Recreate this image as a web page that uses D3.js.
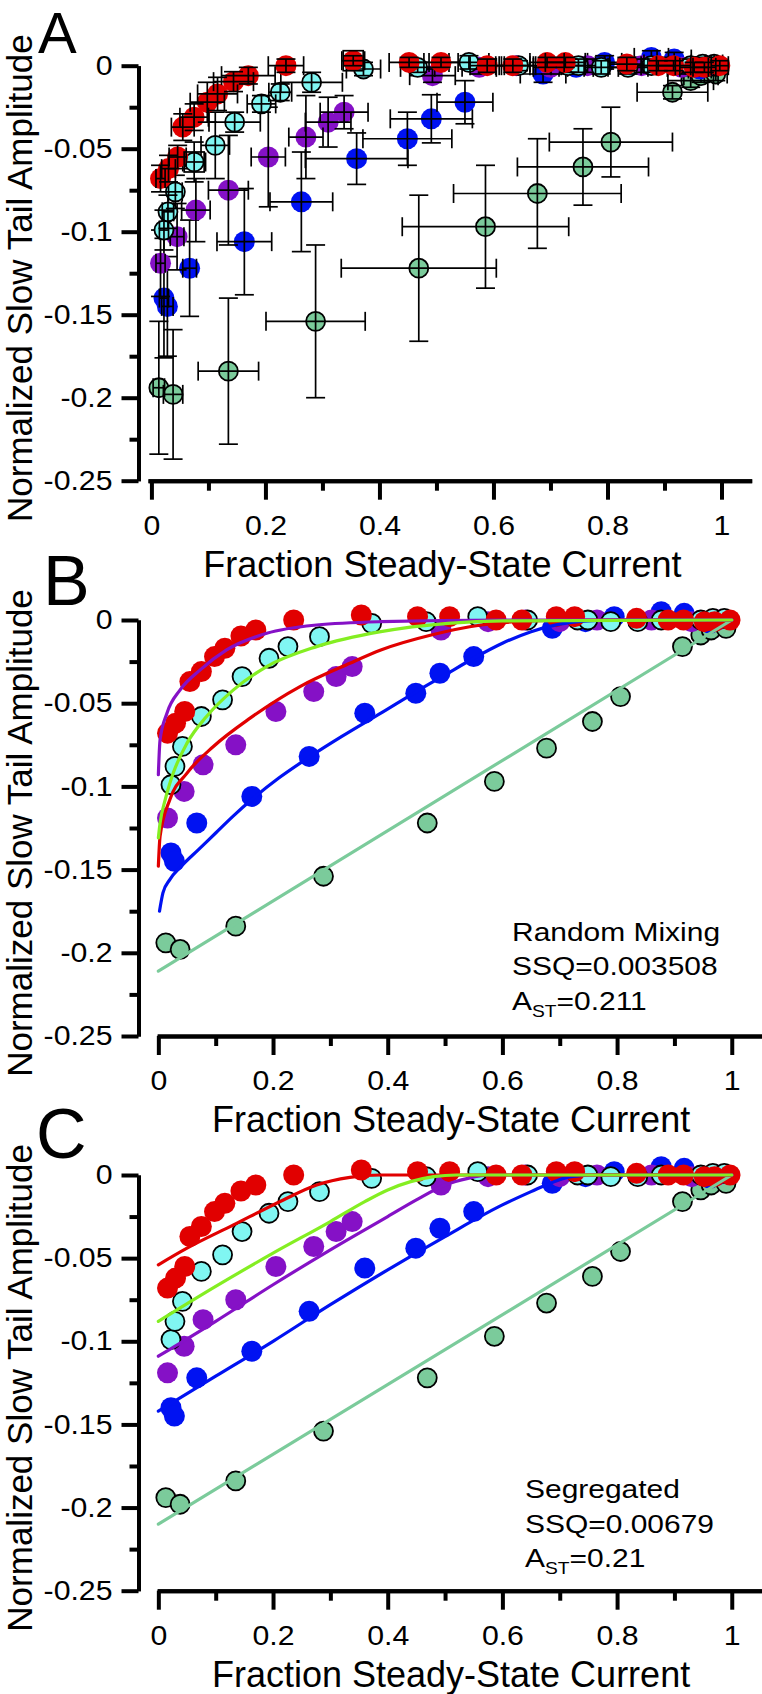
<!DOCTYPE html>
<html>
<head>
<meta charset="utf-8">
<script src="https://cdn.jsdelivr.net/npm/d3@7"></script>
<style>
  body { margin: 0; background: #fff; }
  svg { display: block; font-family: "Liberation Sans", Arial, sans-serif; }
</style>
</head>
<body>
<div id="chart"></div>
<script>
// ---- tick values ----
const xMajor = [0, 0.2, 0.4, 0.6, 0.8, 1];
const xMinor = [0.1, 0.3, 0.5, 0.7, 0.9];
const yMajor = [0, -0.05, -0.1, -0.15, -0.2, -0.25];
const yMinor = [-0.025, -0.075, -0.125, -0.175, -0.225];

// ---- data points (same in all three panels) ----
const redX = [0.016, 0.030, 0.046, 0.055, 0.075, 0.098, 0.116, 0.144, 0.170, 0.236, 0.354, 0.452, 0.508, 0.589, 0.634, 0.694, 0.726, 0.834, 0.889, 0.916, 0.952, 0.970, 0.997];
const redY = [-0.068, -0.062, -0.055, -0.037, -0.031, -0.022, -0.017, -0.0096, -0.006, 0.000, 0.003, 0.002, 0.002, 0.000, 0.000, 0.002, 0.002, 0.001, 0.000, 0.000, -0.001, -0.001, 0.000];
const redXErr = [0.008, 0.012, 0.015, 0.02, 0.025, 0.03, 0.035, 0.035, 0.047, 0.031, 0.02, 0.035, 0.03, 0.03, 0.03, 0.03, 0.035, 0.03, 0.03, 0.03, 0.025, 0.02, 0.015];
const redYErr = [0.008, 0.008, 0.007, 0.008, 0.008, 0.012, 0.01, 0.006, 0.005, 0.004, 0.003, 0.003, 0.003, 0.004, 0.004, 0.003, 0.003, 0.004, 0.003, 0.003, 0.003, 0.003, 0.003];

const cyanX = [0.022, 0.029, 0.042, 0.075, 0.112, 0.146, 0.193, 0.226, 0.281, 0.372, 0.467, 0.557, 0.644, 0.731, 0.749, 0.789, 0.836, 0.877, 0.946, 0.967, 0.987];
const cyanY = [-0.099, -0.088, -0.076, -0.058, -0.048, -0.034, -0.023, -0.016, -0.010, -0.002, -0.001, 0.002, 0.000, 0.000, 0.000, -0.001, -0.001, 0.000, 0.000, 0.001, 0.001];
const cyanXErr = [0.008, 0.01, 0.012, 0.02, 0.025, 0.045, 0.025, 0.02, 0.054, 0.03, 0.03, 0.035, 0.03, 0.03, 0.03, 0.03, 0.035, 0.03, 0.025, 0.02, 0.015];
const cyanYErr = [0.012, 0.01, 0.01, 0.012, 0.02, 0.006, 0.005, 0.005, 0.006, 0.004, 0.003, 0.004, 0.003, 0.004, 0.004, 0.004, 0.004, 0.004, 0.004, 0.004, 0.004];

const purpleX = [0.016, 0.045, 0.078, 0.135, 0.205, 0.271, 0.310, 0.338, 0.493, 0.575, 0.640, 0.700, 0.765, 0.860, 0.930, 0.975];
const purpleY = [-0.119, -0.103, -0.087, -0.075, -0.055, -0.043, -0.034, -0.028, -0.006, -0.001, 0.000, -0.001, 0.000, 0.000, -0.001, 0.000];
const purpleXErr = [0.008, 0.012, 0.025, 0.035, 0.03, 0.03, 0.04, 0.042, 0.04, 0.03, 0.03, 0.03, 0.03, 0.03, 0.025, 0.02];
const purpleYErr = [0.02, 0.02, 0.019, 0.033, 0.03, 0.025, 0.015, 0.01, 0.004, 0.004, 0.004, 0.004, 0.004, 0.004, 0.004, 0.004];

const blueX = [0.022, 0.028, 0.067, 0.163, 0.263, 0.360, 0.449, 0.491, 0.550, 0.687, 0.745, 0.795, 0.877, 0.917, 0.962];
const blueY = [-0.140, -0.145, -0.122, -0.106, -0.082, -0.056, -0.044, -0.032, -0.022, -0.005, -0.001, 0.002, 0.005, 0.004, -0.002];
const blueXErr = [0.008, 0.01, 0.012, 0.048, 0.055, 0.09, 0.078, 0.072, 0.049, 0.04, 0.03, 0.03, 0.03, 0.03, 0.02];
const blueYErr = [0.036, 0.03, 0.029, 0.032, 0.03, 0.0155, 0.016, 0.0145, 0.013, 0.005, 0.004, 0.004, 0.004, 0.004, 0.004];

const greenX = [0.013, 0.038, 0.135, 0.288, 0.469, 0.586, 0.677, 0.757, 0.806, 0.914, 0.946, 0.964, 0.990];
const greenY = [-0.194, -0.198, -0.184, -0.154, -0.122, -0.097, -0.077, -0.061, -0.046, -0.016, -0.009, -0.006, -0.005];
const greenXErr = [0.01, 0.017, 0.053, 0.087, 0.136, 0.146, 0.147, 0.115, 0.108, 0.062, 0.04, 0.03, 0.02];
const greenYErr = [0.04, 0.039, 0.044, 0.046, 0.044, 0.037, 0.033, 0.023, 0.021, 0.004, 0.004, 0.004, 0.004];

// points in panel A that carry a square outline
const boxedA = [[0.354, 0.003], [0.075, -0.058]];

const fitBGreen = [[0, -0.211], [1, 0]];
const fitBBlue = [[0.002, -0.175], [0.008, -0.164], [0.02, -0.156], [0.04, -0.148], [0.07, -0.138], [0.1, -0.128], [0.13, -0.118], [0.166, -0.107], [0.21, -0.095], [0.265, -0.082], [0.32, -0.070], [0.388, -0.056], [0.45, -0.043], [0.5, -0.033], [0.55, -0.023], [0.6, -0.014], [0.65, -0.007], [0.7, -0.0025], [0.75, -0.0005], [0.8, 0], [1, 0]];
const fitBRed = [[0, -0.148], [0.003, -0.130], [0.020, -0.108], [0.050, -0.092], [0.096, -0.076], [0.160, -0.059], [0.247, -0.040], [0.334, -0.026], [0.388, -0.018], [0.476, -0.009], [0.563, -0.003], [0.65, -0.0006], [0.75, 0], [1, 0]];
const fitBPurple = [[0, -0.093], [0.003, -0.072], [0.015, -0.056], [0.038, -0.042], [0.073, -0.030], [0.119, -0.018], [0.189, -0.008], [0.276, -0.003], [0.388, -0.001], [0.6, 0], [1, 0]];
const fitBLime = [[0, -0.131], [0.003, -0.122], [0.012, -0.108], [0.026, -0.092], [0.050, -0.074], [0.084, -0.058], [0.131, -0.042], [0.189, -0.028], [0.276, -0.016], [0.388, -0.007], [0.505, -0.002], [0.6, -0.0005], [1, 0]];

const fitCGreen = [[0, -0.210], [1, 0]];
const fitCBlue = [[0, -0.142], [0.1, -0.121], [0.2, -0.100], [0.3, -0.078], [0.4, -0.057], [0.5, -0.037], [0.6, -0.018], [0.65, -0.010], [0.69, -0.004], [0.72, -0.001], [0.76, 0], [1, 0]];
const fitCPurple = [[0, -0.109], [0.1, -0.088], [0.2, -0.066], [0.3, -0.045], [0.4, -0.025], [0.45, -0.015], [0.5, -0.006], [0.54, -0.002], [0.58, 0], [1, 0]];
const fitCRed = [[0, -0.054], [0.050, -0.044], [0.131, -0.030], [0.218, -0.015], [0.276, -0.006], [0.334, -0.0014], [0.388, 0], [1, 0]];
const fitCLime = [[0, -0.088], [0.1, -0.067], [0.2, -0.047], [0.3, -0.028], [0.36, -0.016], [0.4, -0.009], [0.44, -0.004], [0.48, -0.001], [0.52, 0], [1, 0]];

const annotB = ["Random Mixing", "SSQ=0.003508", "0.211"];
const annotC = ["Segregated", "SSQ=0.00679", "0.21"];

// ---- colours ----
const cRed = "#e10000", cCyan = "#80f6f2", cPurple = "#8511c6", cBlue = "#0012f2", cGreen = "#7bcb9b", cLime = "#84ee22";

const series = [
  { x: greenX, y: greenY, xe: greenXErr, ye: greenYErr, fill: cGreen, outline: true },
  { x: blueX, y: blueY, xe: blueXErr, ye: blueYErr, fill: cBlue, outline: false },
  { x: purpleX, y: purpleY, xe: purpleXErr, ye: purpleYErr, fill: cPurple, outline: false },
  { x: cyanX, y: cyanY, xe: cyanXErr, ye: cyanYErr, fill: cCyan, outline: true },
  { x: redX, y: redY, xe: redXErr, ye: redYErr, fill: cRed, outline: false }
];

const W = 762, H = 1694;
const svg = d3.select("#chart").append("svg").attr("width", W).attr("height", H);
svg.append("rect").attr("width", W).attr("height", H).attr("fill", "#fff");

const fmt = d => d === 0 ? "0" : String(+d.toFixed(3));

// the original lettering is a little wider than Arial at the same height
function widen(sel, k) {
  sel.each(function () {
    const len = this.getComputedTextLength();
    d3.select(this).attr("textLength", len * k).attr("lengthAdjust", "spacingAndGlyphs");
  });
}

function drawPanel(p) {
  const g = svg.append("g");
  const x = d3.scaleLinear().domain(p.xDom).range(p.xRange);
  const y = d3.scaleLinear().domain([-0.25, 0]).range([p.bottom, p.top]);

  // y axis
  const yAx = g.append("g").attr("transform", `translate(${p.yAxisX},0)`);
  yAx.append("g").call(d3.axisLeft(y).tickValues(yMinor).tickSize(9).tickSizeOuter(0).tickFormat(""));
  yAx.append("g").call(d3.axisLeft(y).tickValues(yMajor).tickSize(17).tickPadding(9).tickSizeOuter(0).tickFormat(fmt));

  // x axis
  const xAx = g.append("g").attr("transform", `translate(0,${p.bottom})`);
  xAx.append("g").call(d3.axisBottom(x).tickValues(xMinor).tickSize(10).tickSizeOuter(0).tickFormat(""));
  xAx.append("g").call(d3.axisBottom(x).tickValues(xMajor).tickSize(19).tickPadding(16).tickSizeOuter(0).tickFormat(fmt));

  g.selectAll(".domain").attr("stroke", "#000").attr("stroke-width", 4);
  g.selectAll(".tick line").attr("stroke", "#000").attr("stroke-width", 4);
  const tt = g.selectAll(".tick text").attr("fill", "#000").style("font-size", "27px")
    .style("font-family", "'Liberation Sans', Arial, sans-serif");
  widen(tt, 1.12);

  // titles
  g.append("text")
    .attr("x", x(0.5) + 6).attr("y", p.bottom + 96)
    .attr("text-anchor", "middle").style("font-size", "36px")
    .text("Fraction Steady-State Current");
  g.append("text")
    .attr("transform", `translate(31.5,${(p.top + p.bottom) / 2 + 5}) rotate(-90)`)
    .attr("text-anchor", "middle").style("font-size", "35px")
    .text("Normalized Slow Tail Amplitude");
  g.append("text")
    .attr("x", p.letter[0]).attr("y", p.letter[1])
    .style("font-size", p.letter[2] + "px")
    .text(p.name);

  return { g, x, y };
}

function drawMarkers(g, x, y, withErr) {
  series.forEach(s => {
    const pts = s.x.map((v, i) => ({ x: v, y: s.y[i], xe: s.xe[i], ye: s.ye[i] }));
    const sg = g.append("g");
    sg.selectAll("circle").data(pts).join("circle")
      .attr("cx", d => x(d.x)).attr("cy", d => y(d.y))
      .attr("r", s.outline ? 9.5 : 10.5)
      .attr("fill", s.fill)
      .attr("stroke", s.outline ? "#000" : "none")
      .attr("stroke-width", 1.8);
    if (!withErr) return;
    const cap = 9.5;
    const segs = [];
    pts.forEach(d => {
      const cx = x(d.x), cy = y(d.y);
      const x0 = x(d.x - d.xe), x1 = x(d.x + d.xe);
      const y0 = y(d.y + d.ye), y1 = y(d.y - d.ye);
      segs.push([x0, cy, x1, cy], [cx, y0, cx, y1],
        [x0, cy - cap, x0, cy + cap], [x1, cy - cap, x1, cy + cap],
        [cx - cap, y0, cx + cap, y0], [cx - cap, y1, cx + cap, y1]);
    });
    sg.selectAll("line").data(segs).join("line")
      .attr("x1", d => d[0]).attr("y1", d => d[1])
      .attr("x2", d => d[2]).attr("y2", d => d[3])
      .attr("stroke", "#000").attr("stroke-width", 1.7);
  });
}

function drawFits(g, x, y, fits) {
  const line = d3.line().x(d => x(d[0])).y(d => y(d[1])).curve(d3.curveMonotoneX);
  fits.forEach(f => {
    g.append("path").datum(f.data)
      .attr("fill", "none").attr("stroke", f.color)
      .attr("stroke-width", 3.2).attr("stroke-linecap", "round")
      .attr("d", line);
  });
}

function drawAnnot(g, x0, y0, lines) {
  const t = g.append("g").style("font-size", "26.5px");
  t.append("text").attr("x", x0).attr("y", y0).text(lines[0]);
  t.append("text").attr("x", x0).attr("y", y0 + 34.5).text(lines[1]);
  const a = t.append("text").attr("x", x0).attr("y", y0 + 69);
  a.append("tspan").text("A");
  a.append("tspan").attr("dy", 7).style("font-size", "17px").text("ST");
  a.append("tspan").attr("dy", -7).text("=" + lines[2]);
  widen(t.selectAll("text"), 1.13);
}

// ---- panel A ----
const pA = drawPanel({ name: "A", top: 65.7, bottom: 480.7, yAxisX: 138.5,
  xDom: [-0.006, 1.053], xRange: [148, 751.7], letter: [38, 53, 58] });
drawMarkers(pA.g, pA.x, pA.y, true);
pA.g.append("g").selectAll("rect").data(boxedA).join("rect")
  .attr("x", d => pA.x(d[0]) - 10).attr("y", d => pA.y(d[1]) - 10)
  .attr("width", 20).attr("height", 20)
  .attr("fill", "none").attr("stroke", "#000").attr("stroke-width", 1.7);

// ---- panel B ----
const pB = drawPanel({ name: "B", top: 620, bottom: 1036, yAxisX: 138.5,
  xDom: [-0.002, 1.055], xRange: [157.2, 763.3], letter: [43, 605, 70] });
drawMarkers(pB.g, pB.x, pB.y, false);
drawFits(pB.g, pB.x, pB.y, [
  { data: fitBGreen, color: cGreen },
  { data: fitBBlue, color: cBlue },
  { data: fitBRed, color: cRed },
  { data: fitBPurple, color: cPurple },
  { data: fitBLime, color: cLime }
]);
drawAnnot(pB.g, 512, 940.7, annotB);

// ---- panel C ----
const pC = drawPanel({ name: "C", top: 1175, bottom: 1590.7, yAxisX: 138.5,
  xDom: [-0.002, 1.055], xRange: [157.2, 763.3], letter: [36, 1158, 70] });
drawMarkers(pC.g, pC.x, pC.y, false);
drawFits(pC.g, pC.x, pC.y, [
  { data: fitCGreen, color: cGreen },
  { data: fitCBlue, color: cBlue },
  { data: fitCPurple, color: cPurple },
  { data: fitCRed, color: cRed },
  { data: fitCLime, color: cLime }
]);
drawAnnot(pC.g, 525, 1498.3, annotC);
</script>
</body>
</html>
